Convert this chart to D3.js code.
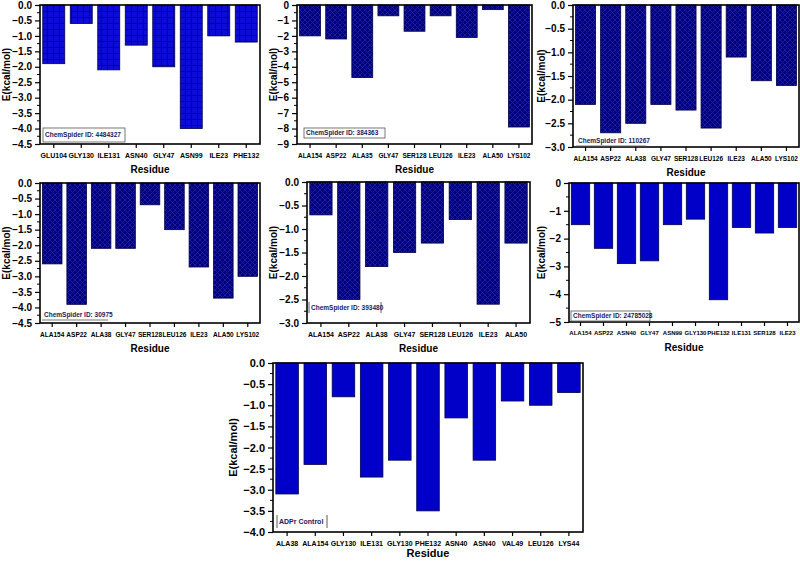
<!DOCTYPE html>
<html><head><meta charset="utf-8">
<script src="https://cdn.jsdelivr.net/npm/d3@7"></script>
<style>body{margin:0;background:#fff;}svg{display:block;font-family:Arial,"Liberation Sans",sans-serif;}</style>
</head><body>
<svg id="c" width="800" height="562"></svg>
<script>
// ---- data ----
const res1 = ["GLU104","GLY130","ILE131","ASN40","GLY47","ASN99","ILE23","PHE132"];
const val1 = [-1.9,-0.6,-2.1,-1.3,-2.0,-4.0,-1.0,-1.2];
const res2 = ["ALA154","ASP22","ALA35","GLY47","SER128","LEU126","ILE23","ALA50","LYS102"];
const val2 = [-2.0,-2.2,-4.7,-0.7,-1.7,-0.7,-2.1,-0.3,-7.9];
const res3 = ["ALA154","ASP22","ALA38","GLY47","SER128","LEU126","ILE23","ALA50","LYS102"];
const val3 = [-2.1,-2.7,-2.5,-2.1,-2.22,-2.6,-1.1,-1.6,-1.7];
const res4 = ["ALA154","ASP22","ALA38","GLY47","SER128","LEU126","ILE23","ALA50","LYS102"];
const val4 = [-2.6,-3.9,-2.1,-2.1,-0.7,-1.5,-2.7,-3.7,-3.0];
const res5 = ["ALA154","ASP22","ALA38","GLY47","SER128","LEU126","ILE23","ALA50"];
const val5 = [-0.7,-2.5,-1.8,-1.5,-1.3,-0.8,-2.6,-1.3];
const res6 = ["ALA154","ASP22","ASN40","GLY47","ASN99","GLY130","PHE132","ILE131","SER128","ILE23"];
const val6 = [-1.5,-2.35,-2.9,-2.8,-1.5,-1.3,-4.2,-1.6,-1.8,-1.6];
const res7 = ["ALA38","ALA154","GLY130","ILE131","GLY130","PHE132","ASN40","ASN40","VAL49","LEU126","LYS44"];
const val7 = [-3.1,-2.4,-0.8,-2.7,-2.3,-3.5,-1.3,-2.3,-0.9,-1.0,-0.7];
const labels = ["ChemSpider ID: 4484327","ChemSpider ID: 384363","ChemSpider ID: 110267","ChemSpider ID: 30975","ChemSpider ID: 393480","ChemSpider ID: 24785028","ADPr Control"];
const yMins = [-4.5,-9,-3,-4.5,-3,-5,-4];
const ySteps = [0.5,1,0.5,0.5,0.5,1,0.5];
const xTitle = "Residue", yTitle = "E(kcal/mol)";

const svg = d3.select("#c");
const defs = svg.append("defs");
const pg = defs.append("pattern").attr("id","grid").attr("patternUnits","userSpaceOnUse").attr("width",6).attr("height",6);
pg.append("rect").attr("width",6).attr("height",6).attr("fill","#0c0cd8");
pg.append("path").attr("d","M0,5.5H6M5.5,0V6").attr("stroke","#0000a0").attr("stroke-width",0.8);
const pc = defs.append("pattern").attr("id","hatch").attr("patternUnits","userSpaceOnUse").attr("width",5).attr("height",5);
pc.append("rect").attr("width",5).attr("height",5).attr("fill","#000078");
pc.append("path").attr("d","M0,0L5,5M5,0L0,5").attr("stroke","#1c1cae").attr("stroke-width",0.9);

const panels = [
 {res:res1,val:val1,L:40,R:260,T:5,B:144,yl:6,fill:"url(#grid)",fmt:".1f",xf:7,lab:{x:43,y:128,w:82,h:14,style:"box"}},
 {res:res2,val:val2,L:297,R:532,T:5,B:144,yl:273,fill:"url(#hatch)",fmt:"d",xf:6.5,lab:{x:304,y:128,w:81,h:10,style:"box"}},
 {res:res3,val:val3,L:573,R:799,T:5,B:147,yl:541,fill:"url(#hatch)",fmt:".1f",xf:6.5,lab:{x:576,y:136,w:70,h:10,style:"under"}},
 {res:res4,val:val4,L:40,R:260,T:183,B:323,yl:6,fill:"url(#hatch)",fmt:".1f",xf:6.5,lab:{x:42,y:310,w:66,h:10,style:"under"}},
 {res:res5,val:val5,L:307,R:530,T:182,B:323,yl:273,fill:"url(#hatch)",fmt:".1f",xf:7,lab:{x:309,y:302,w:72,h:11,style:"sides"}},
 {res:res6,val:val6,L:569,R:799,T:183,B:322,yl:541,fill:"#0000c8",fmt:"d",xf:6,lab:{x:571,y:311,w:79,h:10,style:"box"}},
 {res:res7,val:val7,L:273,R:583,T:363,B:532,yl:233,fill:"#0000c8",fmt:".1f",xf:7,lab:{x:277,y:515,w:50,h:13,style:"sides"},big:true}
];

panels.forEach((p,i)=>{
  const g = svg.append("g");
  const x = d3.scaleBand().domain(d3.range(p.res.length)).range([p.L,p.R]).paddingInner(0.2).paddingOuter(0.1);
  const y = d3.scaleLinear().domain([yMins[i],0]).range([p.B,p.T]);
  g.selectAll("rect.bar").data(p.val).join("rect").attr("class","bar")
    .attr("x",(d,j)=>x(j)).attr("width",x.bandwidth())
    .attr("y",y(0)).attr("height",d=>y(d)-y(0))
    .attr("fill",p.fill).attr("stroke","#00004a").attr("stroke-width",0.8);
  const nMaj = Math.round(-yMins[i]/ySteps[i]);
  const majors = d3.range(0,nMaj+1).map(k=>-k*ySteps[i]);
  const minors = d3.range(0,nMaj).map(k=>-(k+0.5)*ySteps[i]);
  const fs = p.big?11:10;
  const ya = d3.axisLeft(y).tickValues(majors).tickFormat(d3.format(p.fmt)).tickSize(5).tickPadding(3);
  const yg = g.append("g").attr("transform",`translate(${p.L},0)`).call(ya);
  yg.select(".domain").remove();
  yg.selectAll("line").attr("stroke","#000").attr("stroke-width",1.2);
  yg.selectAll("text").attr("font-size",fs).attr("font-weight","bold").attr("fill","#000").style("font-family","Arial,'Liberation Sans',sans-serif");
  g.append("g").selectAll("line").data(minors).join("line")
    .attr("x1",p.L-3).attr("x2",p.L).attr("y1",d=>y(d)).attr("y2",d=>y(d)).attr("stroke","#000").attr("stroke-width",1);
  const xa = d3.axisBottom(x).tickFormat(j=>p.res[j]).tickSize(4).tickPadding(5);
  const xg = g.append("g").attr("transform",`translate(0,${p.B})`).call(xa);
  xg.select(".domain").remove();
  xg.selectAll("line").attr("stroke","#000").attr("stroke-width",1.2);
  xg.selectAll("text").attr("font-size",p.xf).attr("font-weight","bold").attr("fill","#000").style("font-family","Arial,'Liberation Sans',sans-serif");
  g.append("rect").attr("x",p.L).attr("y",p.T).attr("width",p.R-p.L).attr("height",p.B-p.T)
    .attr("fill","none").attr("stroke","#000").attr("stroke-width",1.6);
  g.append("text").attr("x",(p.L+p.R)/2).attr("y",p.B+(p.big?25:29)).attr("text-anchor","middle")
    .attr("font-size",p.big?11:10).attr("font-weight","bold").text(xTitle);
  g.append("text").attr("transform",`translate(${p.yl},${(p.T+p.B)/2}) rotate(-90)`).attr("text-anchor","middle")
    .attr("dy","0.35em").attr("font-size",p.big?11:10).attr("font-weight","bold").text(yTitle);
  const lb = p.lab;
  const lg = g.append("g");
  lg.append("rect").attr("x",lb.x).attr("y",lb.y).attr("width",lb.w).attr("height",lb.h).attr("fill","#fff");
  if(lb.style==="box"){
    lg.append("rect").attr("x",lb.x).attr("y",lb.y).attr("width",lb.w).attr("height",lb.h).attr("fill","none").attr("stroke","#555").attr("stroke-width",0.8);
  } else if(lb.style==="under"){
    lg.append("line").attr("x1",lb.x).attr("x2",lb.x+lb.w).attr("y1",lb.y+lb.h).attr("y2",lb.y+lb.h).attr("stroke","#555").attr("stroke-width",0.8);
  } else {
    lg.append("line").attr("x1",lb.x).attr("x2",lb.x).attr("y1",lb.y).attr("y2",lb.y+lb.h).attr("stroke","#333").attr("stroke-width",0.8);
    lg.append("line").attr("x1",lb.x+lb.w).attr("x2",lb.x+lb.w).attr("y1",lb.y).attr("y2",lb.y+lb.h).attr("stroke","#333").attr("stroke-width",0.8);
  }
  lg.append("text").attr("x",lb.x+2).attr("y",lb.y+lb.h/2).attr("dy","0.35em")
    .attr("font-size",p.big?7:6.5).attr("font-weight","bold").attr("fill","#1a1a5a").text(labels[i]);
});
</script>
</body></html>
